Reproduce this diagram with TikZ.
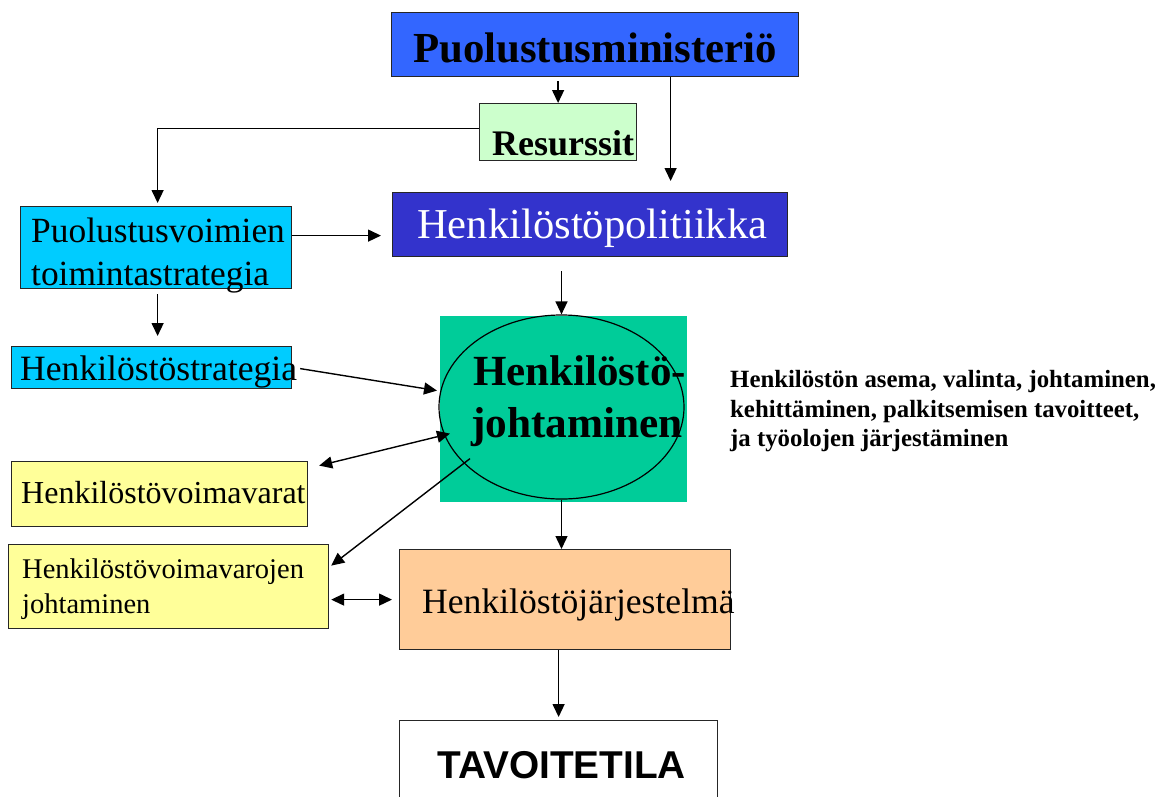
\documentclass[tikz,border=0pt]{standalone}
\usepackage{fontspec}
\setmainfont{Liberation Serif}
\newfontfamily\arialfont{Liberation Sans}
\usetikzlibrary{arrows.meta,shapes.geometric,calc}
\definecolor{pmblue}{HTML}{3366FF}
\definecolor{polblue}{HTML}{3333CC}
\definecolor{cyanbox}{HTML}{00CCFF}
\definecolor{greenbg}{HTML}{00CC99}
\definecolor{lightgreen}{HTML}{CCFFCC}
\definecolor{yellowbox}{HTML}{FFFF99}
\definecolor{peach}{HTML}{FFCC99}
\begin{document}
\begin{tikzpicture}[x=1pt,y=-1pt,
  box/.style={draw=black!85, line width=1.2pt, inner sep=0pt, anchor=north west},
  lbl/.style={anchor=base west, inner sep=0pt},
  arr/.style={-{Triangle[length=13pt,width=12pt]}, line width=1.4pt},
  darr/.style={{Triangle[length=13pt,width=12pt]}-{Triangle[length=13pt,width=12pt]}, line width=1.4pt},
  fs/.style={font=\fontsize{#1}{#1}\selectfont},
  fb/.style={font=\bfseries\fontsize{#1}{#1}\selectfont}
]
\useasboundingbox (0,0) rectangle (1159,796);
\fill[white] (0,0) rectangle (1159,796);

% boxes
\node[box, fill=pmblue, minimum width=407pt, minimum height=64pt] (pm) at (391,12) {};
\node[box, fill=lightgreen, minimum width=157pt, minimum height=57pt] (res) at (479,103) {};
\node[box, fill=polblue, minimum width=395pt, minimum height=64pt] (ppol) at (392,192) {};
\node[box, fill=cyanbox, minimum width=271pt, minimum height=82pt] (pvt) at (20,206) {};
\node[box, fill=cyanbox, minimum width=280pt, minimum height=42pt] (hs) at (11,346) {};
\node[box, draw=none, fill=greenbg, minimum width=247pt, minimum height=186pt] (hjbg) at (439,315) {};
\node[draw=black, line width=1.2pt, ellipse, minimum width=245pt, minimum height=184pt, inner sep=0pt] (hj) at (561.5,407) {};
\node[box, fill=yellowbox, minimum width=296pt, minimum height=65pt] (hv) at (11,461) {};
\node[box, fill=yellowbox, minimum width=320pt, minimum height=84pt] (hvj) at (8,544) {};
\node[box, fill=peach, minimum width=331pt, minimum height=100pt] (hjs) at (399,549) {};
\node[box, fill=white, minimum width=318pt, minimum height=92pt] (tav) at (399,720) {};

% texts
\node[lbl, fb=42.8] (pmt) at (413,62) {Puolustusministeriö};
\node[lbl, fb=36] (rest) at (492,155) {Resurssit};
\node[lbl, fs=42.6, text=white] (ppolt) at (417,238) {Henkilöstöpolitiikka};
\node[lbl, fs=35.4] (pvt1) at (31,242) {Puolustusvoimien};
\node[lbl, fs=35.4] (pvt2) at (31,285) {toimintastrategia};
\node[lbl, fs=35.6] (hst) at (20,380) {Henkilöstöstrategia};
\node[lbl, fb=43] (hj1) at (473,385) {Henkilöstö-};
\node[lbl, fb=43.3] (hj2) at (471,437) {johtaminen};
\node[lbl, fs=32] (hvt) at (21,503) {Henkilöstövoimavarat};
\node[lbl, fs=28.5] (hvj1) at (22,578) {Henkilöstövoimavarojen};
\node[lbl, fs=28.5] (hvj2) at (22,613) {johtaminen};
\node[lbl, fs=35.6] (hjst) at (422,613) {Henkilöstöjärjestelmä};
\node[lbl, font=\arialfont\bfseries\fontsize{38.8}{38.8}\selectfont] (tavt) at (437,778) {TAVOITETILA};
\node[lbl, fb=24.8] (r1) at (730,387) {Henkilöstön asema, valinta, johtaminen,};
\node[lbl, fb=24.8] (r2) at (730,417) {kehittäminen, palkitsemisen tavoitteet,};
\node[lbl, fb=24.8] (r3) at (730,446) {ja työolojen järjestäminen};

% connectors
\draw[arr] ($(pm.south -| res.north)+(0,4)$) -- (res.north);
\draw[arr] ($(pm.south)+(75.5,0)$) coordinate (a2) -- ($(a2 |- ppol.north)+(0,-11)$);
\draw[arr] ($(res.west)+(0,-3.5)$) -| ($(pvt.north)+(1.5,-3)$);
\draw[arr] ($(pvt.east)+(0,-12)$) -- ($(ppol.west |- pvt.east)+(-11,-12)$);
\draw[arr] ($(pvt.south)+(1.5,5)$) -- ($(pvt.south |- hs.north)+(1.5,-10)$);
\draw[arr] ($(ppol.south -| hj.north)+(0,14)$) -- (hj.north);
\draw[arr] ($(hs.east)+(8,1)$) -- ($(hjbg.west)+(-2,-18)$);
\draw[darr] ($(hv.east)+(11,-28.5)$) -- ($(hjbg.west)+(11,25)$);
\draw[arr] ($(hjbg.west)+(31,50)$) -- ($(hvj.east)+(2,-21)$);
\draw[darr] ($(hvj.east |- hjs.west)+(2,0)$) -- ($(hjs.west)+(-7,0)$);
\draw[arr] (hj.south) -- (hj.south |- hjs.north);
\draw[arr] (tav.north |- hjs.south) -- ($(tav.north)+(0,-3)$);
\end{tikzpicture}
\end{document}
